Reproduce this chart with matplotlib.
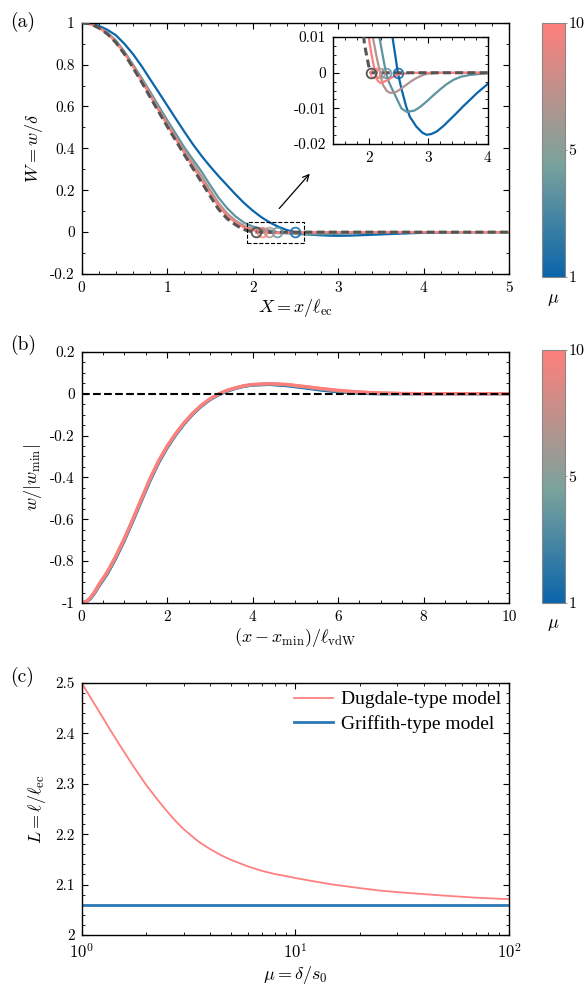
import matplotlib
matplotlib.use("Agg")
import matplotlib.pyplot as plt
from matplotlib.colors import LinearSegmentedColormap, Normalize
from matplotlib.cm import ScalarMappable
from matplotlib.patches import Rectangle
from matplotlib.ticker import MultipleLocator, FuncFormatter, LogLocator

plt.rcParams["font.family"] = ["cmr10"]
plt.rcParams["mathtext.fontset"] = "cm"
plt.rcParams["axes.unicode_minus"] = False
plt.rcParams["axes.linewidth"] = 1.0

# ---- panel (a): deflection profiles W(X) for several mu
mu_vals = [1, 4, 7, 10]

xa_mu1 = [0, 0.1, 0.2, 0.3, 0.4, 0.5, 0.6, 0.7, 0.8, 0.9, 1.0, 1.1, 1.2, 1.3, 1.4, 1.5, 1.6, 1.7,
          1.8, 1.9, 2.0, 2.1, 2.2, 2.3, 2.4, 2.45, 2.49, 2.55, 2.63, 2.69, 2.8, 2.9, 2.97, 3.05,
          3.14, 3.25, 3.36, 3.47, 3.58, 3.7, 3.81, 4.0, 4.25, 4.5, 5.0]
wa_mu1 = [1.0, 0.996, 0.985, 0.966, 0.94, 0.899, 0.85, 0.793, 0.73, 0.668, 0.605, 0.542, 0.48,
          0.42, 0.365, 0.315, 0.268, 0.224, 0.180, 0.139, 0.103, 0.072, 0.046, 0.026, 0.01,
          0.0045, 0.0, -0.0045, -0.0095, -0.0123, -0.0151, -0.0168, -0.0174, -0.0172, -0.0165,
          -0.0150, -0.0132, -0.0114, -0.0095, -0.0076, -0.0058, -0.0031, -0.0012, -0.0004, 0.0]

xa_mu4 = [0, 0.1, 0.2, 0.3, 0.4, 0.5, 0.6, 0.7, 0.8, 1.0, 1.2, 1.4, 1.5, 1.6, 1.7, 1.8, 1.9, 2.0,
          2.1, 2.18, 2.24, 2.29, 2.33, 2.38, 2.47, 2.55, 2.64, 2.77, 2.87, 2.97, 3.08, 3.19, 3.3,
          3.42, 3.55, 3.7, 4.0, 4.5, 5.0]
wa_mu4 = [1.0, 0.994, 0.978, 0.952, 0.915, 0.862, 0.80, 0.737, 0.67, 0.535, 0.405, 0.29, 0.226,
          0.165, 0.115, 0.075, 0.045, 0.027, 0.016, 0.01, 0.0045, 0.0, -0.0022, -0.0041, -0.0072,
          -0.0100, -0.0110, -0.0106, -0.0095, -0.0081, -0.0064, -0.0048, -0.0033, -0.0020,
          -0.0011, -0.0006, -0.0001, 0.0, 0.0]

xa_mu7 = [0, 0.1, 0.2, 0.3, 0.4, 0.5, 0.6, 0.7, 0.8, 1.0, 1.2, 1.4, 1.5, 1.6, 1.7, 1.8, 1.9, 2.0,
          2.07, 2.13, 2.19, 2.24, 2.3, 2.35, 2.41, 2.47, 2.55, 2.63, 2.72, 2.8, 2.9, 2.97, 3.2,
          4.0, 5.0]
wa_mu7 = [1.0, 0.994, 0.977, 0.950, 0.91, 0.857, 0.795, 0.73, 0.66, 0.522, 0.39, 0.268, 0.203,
          0.14, 0.09, 0.055, 0.03, 0.015, 0.01, 0.0048, 0.0, -0.0034, -0.0050, -0.0056, -0.0056,
          -0.0053, -0.0044, -0.0034, -0.0023, -0.0015, -0.0007, -0.0003, 0.0, 0.0, 0.0]

xa_mu10 = [0, 0.1, 0.2, 0.3, 0.4, 0.5, 0.6, 0.7, 0.8, 1.0, 1.2, 1.4, 1.5, 1.6, 1.7, 1.8, 1.9,
           2.0, 2.05, 2.11, 2.15, 2.2, 2.3, 2.4, 2.52, 2.7, 3.0, 4.0, 5.0]
wa_mu10 = [1.0, 0.994, 0.976, 0.948, 0.907, 0.853, 0.79, 0.723, 0.652, 0.512, 0.378, 0.25, 0.186,
           0.125, 0.078, 0.045, 0.022, 0.01, 0.005, 0.0, -0.0022, -0.0029, -0.0022, -0.0012,
           -0.0004, 0.0, 0.0, 0.0, 0.0]

xa_griff = [0, 0.1, 0.2, 0.3, 0.4, 0.5, 0.6, 0.7, 0.8, 1.0, 1.2, 1.4, 1.5, 1.6, 1.7, 1.8, 1.87,
            1.93, 2.0, 2.04, 3.0, 4.0, 5.0]
wa_griff = [1.0, 0.994, 0.975, 0.946, 0.905, 0.85, 0.785, 0.717, 0.645, 0.505, 0.37, 0.24, 0.174,
            0.11, 0.065, 0.035, 0.018, 0.008, 0.002, 0.0, 0.0, 0.0, 0.0]

# contact edge (W = 0) for mu = 1, 4, 7, 10 and Griffith
edge_x = [2.49, 2.29, 2.19, 2.11]
edge_x_griff = 2.04

# ---- panel (b): rescaled profiles
xb = [0, 0.1, 0.2, 0.3, 0.4, 0.6, 0.8, 1.0, 1.2, 1.4, 1.6, 1.8, 2.0, 2.2, 2.4, 2.6, 2.8, 3.0,
      3.2, 3.4, 3.6, 3.8, 4.0, 4.4, 4.8, 5.2, 5.6, 6.0, 6.5, 7.0, 7.5, 8.0, 9.0, 10.0]
wb_mu1 = [-1.0, -0.995, -0.98, -0.953, -0.92, -0.86, -0.785, -0.70, -0.607, -0.51, -0.415,
          -0.33, -0.258, -0.197, -0.144, -0.098, -0.06, -0.029, -0.006, 0.012, 0.025, 0.035,
          0.041, 0.044, 0.038, 0.028, 0.017, 0.009, 0.002, -0.001, 0.0, 0.0, 0.0, 0.0]
wb_mu4 = [-1.0, -0.994, -0.978, -0.95, -0.917, -0.856, -0.781, -0.696, -0.603, -0.506, -0.41,
          -0.326, -0.255, -0.194, -0.141, -0.096, -0.058, -0.027, -0.004, 0.014, 0.026, 0.036,
          0.042, 0.046, 0.041, 0.031, 0.021, 0.012, 0.005, 0.001, 0.0, 0.0, 0.0, 0.0]
wb_mu7 = [-1.0, -0.994, -0.976, -0.948, -0.914, -0.853, -0.778, -0.693, -0.6, -0.503, -0.407,
          -0.323, -0.252, -0.192, -0.139, -0.094, -0.056, -0.026, -0.003, 0.015, 0.027, 0.037,
          0.043, 0.047, 0.043, 0.033, 0.023, 0.014, 0.007, 0.002, 0.0, 0.0, 0.0, 0.0]
wb_mu10 = [-1.0, -0.994, -0.975, -0.947, -0.912, -0.85, -0.775, -0.69, -0.597, -0.50, -0.405,
           -0.32, -0.25, -0.19, -0.138, -0.093, -0.055, -0.025, -0.002, 0.016, 0.028, 0.038,
           0.044, 0.048, 0.044, 0.035, 0.025, 0.016, 0.008, 0.003, 0.001, 0.0, 0.0, 0.0]

# ---- panel (c): adhesion length vs mu
mu_c = [1, 1.1, 1.2, 1.35, 1.5, 1.75, 2, 2.25, 2.5, 2.75, 3, 3.5, 4, 4.5, 5, 6, 7, 8, 9, 10,
        12, 15, 20, 25, 30, 40, 50, 70, 100]
L_dugdale = [2.500, 2.471, 2.445, 2.409, 2.378, 2.334, 2.298, 2.270, 2.246, 2.226, 2.210, 2.186,
             2.170, 2.158, 2.149, 2.136, 2.127, 2.121, 2.117, 2.113, 2.107, 2.100, 2.093, 2.088,
             2.085, 2.081, 2.078, 2.074, 2.071]
L_griffith = 2.06

cmap = LinearSegmentedColormap.from_list(
    "mu", [(0.0, "#0a65aa"), (0.45, "#7ba39c"), (1.0, "#ff7f7c")])
norm = Normalize(vmin=1, vmax=10)
curve_cols = [cmap(norm(m)) for m in mu_vals]
grey = "#555555"


def fmt(v, pos):
    v = round(v, 6) + 0.0
    return f"{v:g}"


def style(ax, size=11):
    ax.tick_params(which="both", direction="in", top=True, right=True, labelsize=size)
    ax.tick_params(which="major", length=4.5, width=0.8, pad=5)
    ax.tick_params(which="minor", length=2.2, width=0.6)


def add_cbar(fig, rect, label_y):
    cax = fig.add_axes(rect)
    sm = ScalarMappable(norm=norm, cmap=cmap)
    cb = fig.colorbar(sm, cax=cax)
    cb.outline.set_edgecolor("#888888")
    cb.outline.set_linewidth(0.8)
    cb.set_ticks([1, 5.5, 10])
    cb.set_ticklabels(["1", "5", "10"])
    cax.tick_params(length=1.5, width=0.6, color="#888888", labelsize=11.5, pad=0.8)
    fig.text(rect[0] + rect[2] / 2, label_y, r"$\mu$", ha="center", va="center", fontsize=13)


def draw_profiles(ax):
    for (xs, ws), c in zip(a_curves, curve_cols):
        ax.plot(xs, ws, color=c, lw=1.6, zorder=2)
    ax.plot(xa_griff, wa_griff, color=grey, lw=2.2, ls=(0, (2.6, 1.4)), zorder=3)
    for ex, c in zip(edge_x, curve_cols):
        ax.plot([ex], [0], "o", mfc="none", mec=c, ms=7, mew=1.3, alpha=0.85, zorder=4)
    ax.plot([edge_x_griff], [0], "o", mfc="none", mec=grey, ms=7, mew=1.3, zorder=4)


fig = plt.figure(figsize=(5.85, 9.9), dpi=100)

a_curves = [(xa_mu1, wa_mu1), (xa_mu4, wa_mu4), (xa_mu7, wa_mu7), (xa_mu10, wa_mu10)]

# (a) main
ax = fig.add_axes([0.1397, 0.7232, 0.7304, 0.2539])
draw_profiles(ax)
ax.add_patch(Rectangle((1.93, -0.053), 0.67, 0.103, fill=False, ls="--", lw=0.8, ec="k", zorder=5))
ax.annotate("", xy=(2.69, 0.289), xytext=(2.29, 0.103),
            arrowprops=dict(arrowstyle="->", lw=0.9, color="k", mutation_scale=11))
ax.set_xlim(0, 5)
ax.set_ylim(-0.2, 1)
ax.xaxis.set_major_locator(MultipleLocator(1))
ax.xaxis.set_minor_locator(MultipleLocator(0.2))
ax.yaxis.set_major_locator(MultipleLocator(0.2))
ax.yaxis.set_minor_locator(MultipleLocator(0.1))
ax.xaxis.set_major_formatter(FuncFormatter(fmt))
ax.yaxis.set_major_formatter(FuncFormatter(fmt))
style(ax)
ax.set_xlabel(r"$X = x/\ell_{\rm ec}$", fontsize=13, labelpad=2)
ax.set_ylabel(r"$W = w/\delta$", fontsize=13, labelpad=4)

# (a) inset
axi = fig.add_axes([0.569, 0.8545, 0.265, 0.108])
draw_profiles(axi)
axi.set_xlim(1.4, 4)
axi.set_ylim(-0.02, 0.01)
axi.xaxis.set_major_locator(MultipleLocator(1))
axi.xaxis.set_minor_locator(MultipleLocator(0.2))
axi.yaxis.set_major_locator(MultipleLocator(0.01))
axi.yaxis.set_minor_locator(MultipleLocator(0.0025))
axi.xaxis.set_major_formatter(FuncFormatter(fmt))
axi.yaxis.set_major_formatter(FuncFormatter(fmt))
style(axi, size=11)

add_cbar(fig, [0.9265, 0.7202, 0.0393, 0.2566], 0.697)

# (b)
axb = fig.add_axes([0.1397, 0.3909, 0.7304, 0.2538])
for ws, c in zip([wb_mu1, wb_mu4, wb_mu7, wb_mu10], curve_cols):
    axb.plot(xb, ws, color=c, lw=2.3, zorder=2)
axb.axhline(0, color="k", ls="--", lw=1.5, zorder=3)
axb.set_xlim(0, 10)
axb.set_ylim(-1, 0.2)
axb.xaxis.set_major_locator(MultipleLocator(2))
axb.xaxis.set_minor_locator(MultipleLocator(0.5))
axb.yaxis.set_major_locator(MultipleLocator(0.2))
axb.yaxis.set_minor_locator(MultipleLocator(0.05))
axb.xaxis.set_major_formatter(FuncFormatter(fmt))
axb.yaxis.set_major_formatter(FuncFormatter(fmt))
style(axb)
axb.set_xlabel(r"$(x - x_{\rm min})/\ell_{\rm vdW}$", fontsize=13, labelpad=2)
axb.set_ylabel(r"$w/|w_{\rm min}|$", fontsize=13, labelpad=4)

add_cbar(fig, [0.9265, 0.391, 0.0393, 0.2555], 0.369)

# (c)
axc = fig.add_axes([0.1397, 0.0556, 0.7304, 0.2545])
axc.plot(mu_c, L_dugdale, color="#ff8080", lw=1.3, label="Dugdale-type model")
axc.axhline(L_griffith, color="#2a78b6", lw=2.0, label="Griffith-type model")
axc.set_xscale("log")
axc.set_xlim(1, 100)
axc.set_ylim(2, 2.5)
axc.xaxis.set_major_locator(LogLocator(base=10))
axc.xaxis.set_minor_locator(LogLocator(base=10, subs=range(2, 10)))
axc.yaxis.set_major_locator(MultipleLocator(0.1))
axc.yaxis.set_minor_locator(MultipleLocator(0.02))
axc.yaxis.set_major_formatter(FuncFormatter(fmt))
style(axc)
axc.tick_params(axis="x", labelsize=12)
axc.set_xlabel(r"$\mu = \delta/s_0$", fontsize=13, labelpad=2)
axc.set_ylabel(r"$L = \ell/\ell_{\rm ec}$", fontsize=13, labelpad=5)
axc.legend(loc="upper right", frameon=False, prop={"family": "Liberation Serif", "size": 14},
           handlelength=2.0, handletextpad=0.4, labelspacing=0.35, borderpad=0.2,
           borderaxespad=0.2)

fig.text(0.018, 0.988, "(a)", fontsize=14, va="top")
fig.text(0.018, 0.662, "(b)", fontsize=14, va="top")
fig.text(0.018, 0.326, "(c)", fontsize=14, va="top")

fig.savefig("out.png", dpi=100)
